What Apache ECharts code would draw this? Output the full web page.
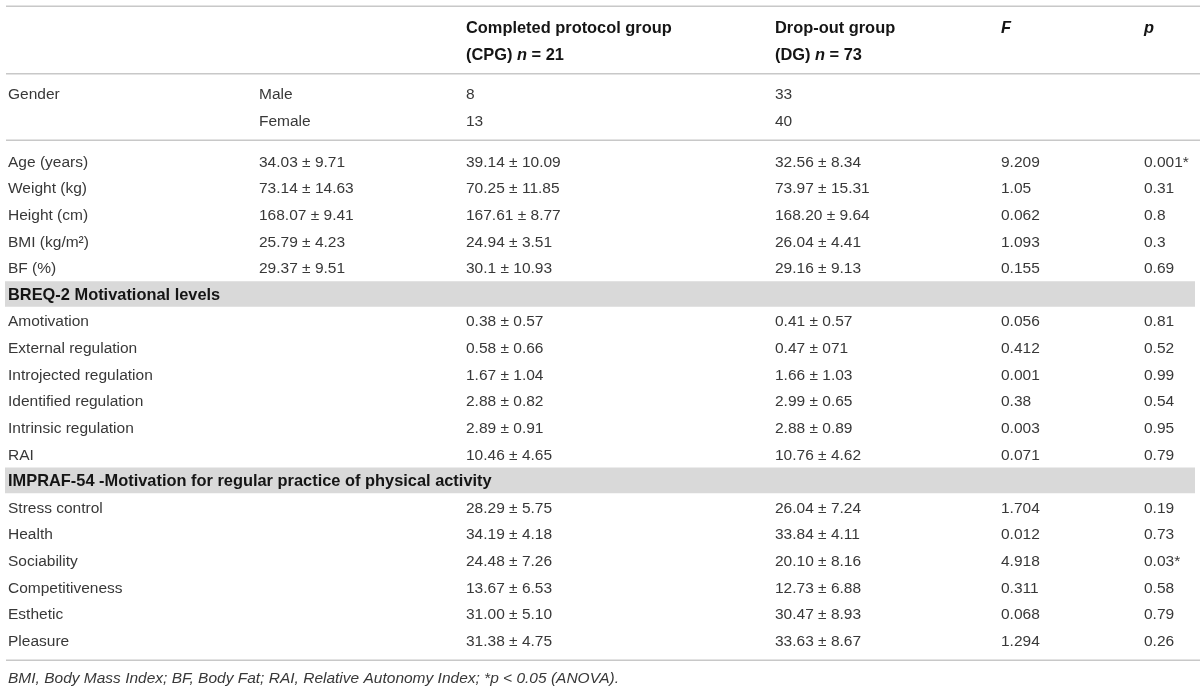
<!DOCTYPE html>
<html>
<head>
<meta charset="utf-8">
<script src="https://cdn.jsdelivr.net/npm/echarts@6/dist/echarts.min.js"></script>
<style>
html, body { margin: 0; padding: 0; background: #fff; }
#main { width: 1200px; height: 691px; }
</style>
</head>
<body>
<div id="main"></div>
<script>
// table content
var headTop = ['', '', 'Completed protocol group', 'Drop-out group', 'F', 'p'];
var headBottom = ['', '', '(CPG) n = 21', '(DG) n = 73', '', ''];

var genderLabel = 'Gender';
var genderLevels = ['Male', 'Female'];
var genderCpg = ['8', '13'];
var genderDg = ['33', '40'];

var rowLabels = [
    'Age (years)', 'Weight (kg)', 'Height (cm)', 'BMI (kg/m²)', 'BF (%)',
    'BREQ-2 Motivational levels',
    'Amotivation', 'External regulation', 'Introjected regulation',
    'Identified regulation', 'Intrinsic regulation', 'RAI',
    'IMPRAF-54 -Motivation for regular practice of physical activity',
    'Stress control', 'Health', 'Sociability', 'Competitiveness', 'Esthetic', 'Pleasure'
];
var groupRows = [5, 12];
var totalVals = ['34.03 ± 9.71', '73.14 ± 14.63', '168.07 ± 9.41', '25.79 ± 4.23', '29.37 ± 9.51',
    '', '', '', '', '', '', '', '', '', '', '', '', '', ''];
var cpgVals = ['39.14 ± 10.09', '70.25 ± 11.85', '167.61 ± 8.77', '24.94 ± 3.51', '30.1 ± 10.93',
    '', '0.38 ± 0.57', '0.58 ± 0.66', '1.67 ± 1.04', '2.88 ± 0.82', '2.89 ± 0.91', '10.46 ± 4.65',
    '', '28.29 ± 5.75', '34.19 ± 4.18', '24.48 ± 7.26', '13.67 ± 6.53', '31.00 ± 5.10', '31.38 ± 4.75'];
var dgVals = ['32.56 ± 8.34', '73.97 ± 15.31', '168.20 ± 9.64', '26.04 ± 4.41', '29.16 ± 9.13',
    '', '0.41 ± 0.57', '0.47 ± 071', '1.66 ± 1.03', '2.99 ± 0.65', '2.88 ± 0.89', '10.76 ± 4.62',
    '', '26.04 ± 7.24', '33.84 ± 4.11', '20.10 ± 8.16', '12.73 ± 6.88', '30.47 ± 8.93', '33.63 ± 8.67'];
var fVals = ['9.209', '1.05', '0.062', '1.093', '0.155',
    '', '0.056', '0.412', '0.001', '0.38', '0.003', '0.071',
    '', '1.704', '0.012', '4.918', '0.311', '0.068', '1.294'];
var pVals = ['0.001*', '0.31', '0.8', '0.3', '0.69',
    '', '0.81', '0.52', '0.99', '0.54', '0.95', '0.79',
    '', '0.19', '0.73', '0.03*', '0.58', '0.79', '0.26'];

var footnote = 'BMI, Body Mass Index; BF, Body Fat; RAI, Relative Autonomy Index; *p < 0.05 (ANOVA).';

// layout
var COL_X = [8, 259, 466, 775, 1001, 1144];
var FONT = '"Helvetica Neue", "Liberation Sans", Arial, sans-serif';
var INK = '#383838';
var INK_BOLD = '#151515';
var FS = 15.5;
var FS_BOLD = 16.4;
var RULE = '#c8c8c8';
var NUDGE = 1.5; // canvas 'middle' sits a little high

function cellText(x, y, text, bold) {
    var size = bold ? FS_BOLD : FS;
    var ink = bold ? INK_BOLD : INK;
    return {
        type: 'text',
        x: x,
        y: y + NUDGE,
        style: {
            text: text,
            fill: ink,
            font: (bold ? 'bold ' : '') + size + 'px ' + FONT,
            align: 'left',
            verticalAlign: 'middle',
            rich: {
                bi: { fontStyle: 'italic', fontWeight: 'bold', fontSize: size, fontFamily: FONT, fill: ink }
            }
        }
    };
}

function italicN(s) {
    return s.replace(/^F$/, '{bi|F}').replace(/^p$/, '{bi|p}').replace(' n ', ' {bi|n} ');
}

function rowData(n) {
    var d = [];
    for (var i = 0; i < n; i++) d.push([0, i]);
    return d;
}

function hiddenX(idx) {
    return { type: 'value', gridIndex: idx, min: 0, max: 1200, show: false };
}
function hiddenY(idx, cats) {
    return { type: 'category', gridIndex: idx, data: cats, inverse: true, show: false };
}

var option = {
    animation: false,
    backgroundColor: '#fff',
    grid: [
        { left: 0, right: 0, top: 13, height: 55 },
        { left: 0, right: 0, top: 80, height: 53 },
        { left: 0, right: 0, top: 147.7, height: 505.6 }
    ],
    xAxis: [hiddenX(0), hiddenX(1), hiddenX(2)],
    yAxis: [hiddenY(0, ['top', 'bottom']), hiddenY(1, genderLevels), hiddenY(2, rowLabels)],
    series: [{
        type: 'custom',
        xAxisIndex: 0,
        yAxisIndex: 0,
        data: rowData(2),
        encode: { x: 0, y: 1 },
        renderItem: function (params, api) {
            var r = api.value(1);
            var src = r === 0 ? headTop : headBottom;
            var kids = [];
            for (var c = 0; c < src.length; c++) {
                if (!src[c]) continue;
                var p = api.coord([COL_X[c], r]);
                kids.push(cellText(p[0], p[1], italicN(src[c]), true));
            }
            return { type: 'group', children: kids };
        }
    }, {
        type: 'custom',
        xAxisIndex: 1,
        yAxisIndex: 1,
        data: rowData(genderLevels.length),
        encode: { x: 0, y: 1 },
        renderItem: function (params, api) {
            var r = api.value(1);
            var cells = [r === 0 ? genderLabel : '', genderLevels[r], genderCpg[r], genderDg[r]];
            var kids = [];
            for (var c = 0; c < cells.length; c++) {
                if (!cells[c]) continue;
                var p = api.coord([COL_X[c], r]);
                kids.push(cellText(p[0], p[1], cells[c], false));
            }
            return { type: 'group', children: kids };
        }
    }, {
        type: 'custom',
        xAxisIndex: 2,
        yAxisIndex: 2,
        data: rowData(rowLabels.length),
        encode: { x: 0, y: 1 },
        renderItem: function (params, api) {
            var r = api.value(1);
            var kids = [];
            var p0 = api.coord([COL_X[0], r]);
            if (groupRows.indexOf(r) >= 0) {
                var h = api.size([0, 1])[1];
                var a = api.coord([5, r]);
                var b = api.coord([1195, r]);
                kids.push({
                    type: 'rect',
                    shape: { x: a[0], y: a[1] - h / 2 + 0.5, width: b[0] - a[0], height: h - 1 },
                    style: { fill: '#d9d9d9' }
                });
                kids.push(cellText(p0[0], p0[1], rowLabels[r], true));
                return { type: 'group', children: kids };
            }
            var cells = [rowLabels[r], totalVals[r], cpgVals[r], dgVals[r], fVals[r], pVals[r]];
            for (var c = 0; c < cells.length; c++) {
                if (!cells[c]) continue;
                var p = api.coord([COL_X[c], r]);
                kids.push(cellText(p[0], p[1], cells[c], false));
            }
            return { type: 'group', children: kids };
        }
    }],
    graphic: [
        { type: 'rect', shape: { x: 6, y: 5.5, width: 1194, height: 1.5 }, style: { fill: RULE } },
        { type: 'rect', shape: { x: 6, y: 73, width: 1194, height: 1.5 }, style: { fill: RULE } },
        { type: 'rect', shape: { x: 6, y: 139.5, width: 1194, height: 1.5 }, style: { fill: RULE } },
        { type: 'rect', shape: { x: 6, y: 659.5, width: 1194, height: 1.5 }, style: { fill: RULE } },
        {
            type: 'text', x: 8, y: 677 + NUDGE,
            style: {
                text: footnote, fill: INK, align: 'left', verticalAlign: 'middle',
                font: 'italic ' + FS + 'px ' + FONT
            }
        }
    ]
};

var myChart = echarts.init(document.getElementById('main'));
myChart.setOption(option);
</script>
</body>
</html>
